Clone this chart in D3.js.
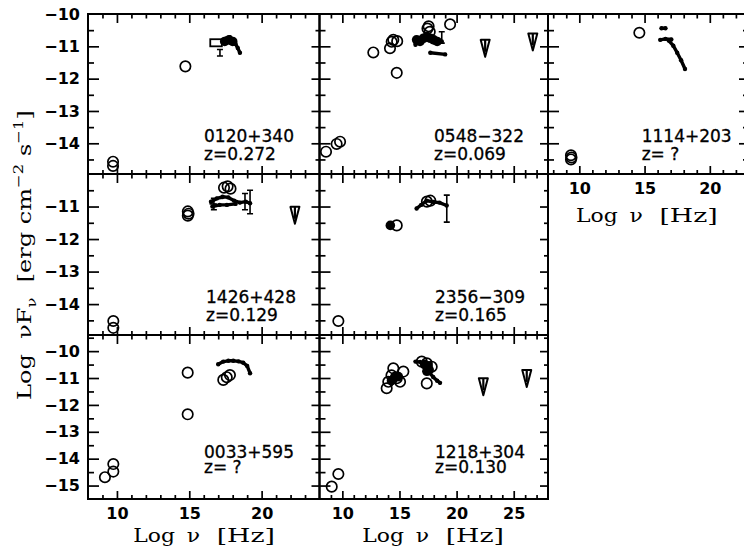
<!DOCTYPE html>
<html><head><meta charset="utf-8">
<script src="https://cdn.jsdelivr.net/npm/d3@7"></script>
<style>body{margin:0;background:#fff}</style>
</head><body><svg id="c" width="744" height="554"></svg>
<script>
// ---------- axis data ----------
const xDomains = [[8,24],[8,28],[7.6,22.85]];
const yDomains = [[-14.95,-10],[-14.95,-10],[-15.5,-9.4]];
const xTickLabelsCol0 = [10,15,20];
const xTickLabelsCol1 = [10,15,20,25];
const xTickLabelsCol2 = [10,15,20];
const yTickLabelsRow0 = [-10,-11,-12,-13,-14];
const yTickLabelsRow1 = [-11,-12,-13,-14];
const yTickLabelsRow2 = [-10,-11,-12,-13,-14,-15];

const sourceNames = ["0120+340","0548\u2212322","1114+203","1426+428","2356\u2212309","0033+595","1218+304"];
const sourceZ = ["z=0.272","z=0.069","z= ?","z=0.129","z=0.165","z= ?","z=0.130"];

// ---------- 0120+340 ----------
const circles0120 = [[9.73,-14.57],[9.73,-14.70],[14.73,-11.62]];
const filled0120 = [[17.45,-10.85],[17.75,-10.8],[18.0,-10.85]];
const spec0120 = [[[17.3,-10.86],[17.55,-10.76],[17.8,-10.72],[18.0,-10.8],[18.2,-10.93],[18.35,-11.05],[18.5,-11.2]]];
const box0120 = [[16.45,17.25,-10.78,-11.0]];
const err0120 = [[17.12,-11.1,-11.3]];
// ---------- 0548-322 ----------
const circles0548 = [[8.57,-14.26],[9.5,-14.02],[9.8,-13.95],[12.71,-11.19],[14.17,-11.06],[14.32,-10.86],[14.46,-10.8],[14.8,-10.84],[14.76,-11.82],[19.43,-10.32],[17.45,-10.45],[17.65,-10.55],[17.55,-10.38]];
const filled0548 = [[16.5,-10.8],[16.8,-10.85],[17.1,-10.75],[17.4,-10.7],[17.7,-10.75],[18.0,-10.8],[18.3,-10.85]];
const spec0548 = [[[16.4,-10.95],[16.8,-10.85],[17.2,-10.8],[17.6,-10.72],[18.0,-10.85],[18.4,-10.88],[18.7,-10.85]],[[17.7,-11.2],[19.0,-11.25]]];
const err0548 = [[18.7,-10.55,-10.9]];
const ul0548 = [[22.5,-10.8],[26.67,-10.6]];
// ---------- 1114+203 ----------
const circles1114 = [[9.36,-14.37],[9.36,-14.5],[9.4,-14.44],[14.6,-10.58]];
const spec1114 = [[[16.2,-10.8],[16.6,-10.77],[17.05,-10.79]],[[16.85,-10.82],[17.2,-10.98],[17.5,-11.2],[17.8,-11.43],[18.1,-11.7]],[[16.3,-10.44],[16.6,-10.44]]];
// ---------- 1426+428 ----------
const circles1426 = [[9.75,-14.52],[9.75,-14.73],[14.9,-11.15],[14.95,-11.22],[14.9,-11.28],[17.4,-10.42],[17.65,-10.38],[17.85,-10.45]];
const spec1426 = [[[16.5,-10.85],[16.9,-10.75],[17.3,-10.7],[17.7,-10.72],[18.1,-10.82],[18.5,-10.88],[18.9,-10.85],[19.2,-10.9]],[[16.6,-11.0],[17.1,-10.95],[17.6,-10.95],[18.2,-10.92]]];
const err1426 = [[19.2,-10.5,-11.22],[18.85,-10.6,-11.1],[16.7,-10.75,-11.1]];
const hbar1426 = [[16.4,16.9,-10.92],[16.9,17.35,-10.75]];
const ul1426 = [[22.3,-11.01]];
// ---------- 2356-309 ----------
const circles2356 = [[9.65,-14.52],[14.76,-11.58],[17.4,-10.85],[17.7,-10.82]];
const filled2356 = [[14.2,-11.58]];
const spec2356 = [[[16.5,-11.06],[16.9,-10.95],[17.39,-10.82],[17.97,-10.86],[18.5,-10.88],[19.13,-10.97]]];
const err2356 = [[19.14,-10.65,-11.48]];
// ---------- 0033+595 ----------
const circles0033 = [[9.17,-14.69],[9.75,-14.2],[9.75,-14.48],[14.89,-10.8],[14.89,-12.35],[17.35,-11.07],[17.59,-10.97],[17.81,-10.89]];
const spec0033 = [[[17.0,-10.49],[17.35,-10.39],[17.7,-10.36],[18.04,-10.36],[18.4,-10.38],[18.73,-10.43],[19.0,-10.55],[19.2,-10.82]]];
// ---------- 1218+304 ----------
const circles1218 = [[9.07,-15.04],[9.65,-14.57],[13.88,-11.38],[14.46,-10.64],[15.34,-10.76],[15.05,-11.14],[14.02,-11.14],[14.76,-11.01],[14.3,-10.9],[17.39,-11.2],[17.39,-10.45],[16.95,-10.39],[17.82,-10.58]];
const filled1218 = [[14.3,-11.1],[14.6,-10.95],[14.9,-10.95],[14.45,-11.05],[17.2,-10.5],[17.5,-10.55],[17.4,-10.75],[17.6,-10.7]];
const spec1218 = [[[16.4,-10.39],[16.8,-10.4]],[[17.6,-10.8],[17.95,-10.96],[18.3,-11.1],[18.55,-11.18]]];
const ul1218 = [[22.34,-11.01],[26.14,-10.7]];

// ---------- assemble ----------
const sources = [
 {circles:circles0120, filled:filled0120, spec:spec0120, box:box0120, err:err0120},
 {circles:circles0548, filled:filled0548, spec:spec0548, err:err0548, ul:ul0548},
 {circles:circles1114, spec:spec1114},
 {circles:circles1426, spec:spec1426, err:err1426, hbar:hbar1426, ul:ul1426},
 {circles:circles2356, filled:filled2356, spec:spec2356, err:err2356},
 {circles:circles0033, spec:spec0033},
 {circles:circles1218, filled:filled1218, spec:spec1218, ul:ul1218}
];
const colRange = [[88,319.5],[319.5,548],[548,747]];
const rowRange = [[14,174],[174,335],[335,499]];
const cells = [
 {src:0,col:0,row:0,tx:116},{src:1,col:1,row:0,tx:114.5},{src:2,col:2,row:0,tx:93.7},
 {src:3,col:0,row:1,tx:118},{src:4,col:1,row:1,tx:115.5},
 {src:5,col:0,row:2,tx:116},{src:6,col:1,row:2,tx:115.5}];
const xLabelSets = {"0,2":xTickLabelsCol0,"1,2":xTickLabelsCol1,"2,0":xTickLabelsCol2};
const yLabelSets = [yTickLabelsRow0,yTickLabelsRow1,yTickLabelsRow2];

const svg = d3.select("#c");
svg.append("rect").attr("width",744).attr("height",554).attr("fill","#fff");

const fmt = d3.format("d");
function styleAxis(g){ g.select(".domain").remove(); g.selectAll("line").attr("stroke","#000").attr("stroke-width",1.7); }

cells.forEach(c=>{
  const S = sources[c.src];
  const [x0,x1] = colRange[c.col], [y0,y1] = rowRange[c.row];
  const x = d3.scaleLinear().domain(xDomains[c.col]).range([x0,x1]);
  const y = d3.scaleLinear().domain(yDomains[c.row]).range([y1,y0]);
  const g = svg.append("g");
  const xd = xDomains[c.col], yd = yDomains[c.row];
  const xInts = d3.range(Math.ceil(xd[0]), Math.floor(xd[1])+1).filter(v=>v>xd[0]+0.05 && v<xd[1]-0.05);
  const xMaj = xInts.filter(v=>v%5===0), xMin = xInts.filter(v=>v%5!==0);
  const yHalf = d3.range(Math.ceil(yd[0]*2), Math.floor(yd[1]*2)+1).map(v=>v/2).filter(v=>v>yd[0]+0.05 && v<yd[1]-0.05);
  const yMaj = yHalf.filter(v=>Number.isInteger(v)), yMin = yHalf.filter(v=>!Number.isInteger(v));
  const defs = [
    [d3.axisBottom, x, xMaj, -8, `translate(0,${y1})`],[d3.axisBottom, x, xMin, -4, `translate(0,${y1})`],
    [d3.axisTop, x, xMaj, -9, `translate(0,${y0})`],[d3.axisTop, x, xMin, -4.5, `translate(0,${y0})`],
    [d3.axisLeft, y, yMaj, -11, `translate(${x0},0)`],[d3.axisLeft, y, yMin, -6, `translate(${x0},0)`],
    [d3.axisRight, y, yMaj, -8, `translate(${x1},0)`],[d3.axisRight, y, yMin, -4, `translate(${x1},0)`]];
  defs.forEach(([ax,sc,vals,sz,tr])=>{
    g.append("g").attr("transform",tr).call(ax(sc).tickValues(vals).tickSize(sz).tickFormat("")).call(styleAxis);
  });
  g.append("rect").attr("x",x0).attr("y",y0).attr("width",x1-x0).attr("height",y1-y0)
    .attr("fill","none").attr("stroke","#000").attr("stroke-width",2);

  // tick labels
  const xl = xLabelSets[c.col+","+c.row];
  if(xl){
    const a = g.append("g").attr("transform",`translate(0,${y1})`)
      .call(d3.axisBottom(x).tickValues(xl).tickSize(0).tickPadding(9).tickFormat(fmt));
    a.select(".domain").remove();
    a.selectAll("text").attr("font-family","DejaVu Sans").attr("font-weight","bold").attr("font-size",16).attr("fill","#000");
  }
  if(c.col===0){
    const a = g.append("g").attr("transform",`translate(${x0},0)`)
      .call(d3.axisLeft(y).tickValues(yLabelSets[c.row]).tickSize(0).tickPadding(8).tickFormat(fmt));
    a.select(".domain").remove();
    a.selectAll("text").attr("font-family","DejaVu Sans").attr("font-weight","bold").attr("font-size",16).attr("fill","#000");
  }

  // marks
  const line = d3.line().x(d=>x(d[0])).y(d=>y(d[1]));
  (S.box||[]).forEach(b=>{
    g.append("rect").attr("x",x(b[0])).attr("y",y(b[2])).attr("width",x(b[1])-x(b[0])).attr("height",y(b[3])-y(b[2]))
      .attr("fill","none").attr("stroke","#000").attr("stroke-width",1.8);
  });
  (S.spec||[]).forEach(p=>{
    g.append("path").attr("d",line(p)).attr("fill","none").attr("stroke","#000").attr("stroke-width",3.4)
      .attr("stroke-linecap","round").attr("stroke-linejoin","round");
    g.selectAll(null).data(p).join("circle").attr("cx",d=>x(d[0])).attr("cy",d=>y(d[1])).attr("r",2.2).attr("fill","#000");
  });
  (S.hbar||[]).forEach(h=>{
    g.append("line").attr("x1",x(h[0])).attr("x2",x(h[1])).attr("y1",y(h[2])).attr("y2",y(h[2])).attr("stroke","#000").attr("stroke-width",1.6);
  });
  (S.err||[]).forEach(e=>{
    const px=x(e[0]), a=y(e[1]), b=y(e[2]);
    g.append("path").attr("d",`M${px},${a}V${b}M${px-3},${a}H${px+3}M${px-3},${b}H${px+3}`)
      .attr("stroke","#000").attr("stroke-width",1.6).attr("fill","none");
  });
  g.selectAll(null).data(S.filled||[]).join("circle").attr("cx",d=>x(d[0])).attr("cy",d=>y(d[1])).attr("r",4.8).attr("fill","#000");
  g.selectAll(null).data(S.circles).join("circle").attr("cx",d=>x(d[0])).attr("cy",d=>y(d[1])).attr("r",5.2)
    .attr("fill","none").attr("stroke","#000").attr("stroke-width",1.7);
  (S.ul||[]).forEach(u=>{
    const px=x(u[0]), py=y(u[1]);
    g.append("path").attr("d",`M${px-4.5},${py}L${px+4.5},${py}L${px},${py+17}Z`).attr("fill","#fff").attr("stroke","#000").attr("stroke-width",2).attr("stroke-linejoin","round");
    g.append("path").attr("d",`M${px},${py}V${py+12}`).attr("stroke","#000").attr("stroke-width",2.2);
  });

  // source label
  const b1 = c.row===2 ? y1-41 : y1-32, b2 = c.row===2 ? y1-26 : y1-14;
  [[sourceNames[c.src],b1],[sourceZ[c.src],b2]].forEach(([t,by])=>{
    g.append("text").attr("x",x0+c.tx).attr("y",by).text(t).attr("font-family","DejaVu Sans").attr("font-size",17)
      .attr("fill","#000").attr("stroke","#000").attr("stroke-width",0.3).style("white-space","pre");
  });
});

// x axis titles
function xTitle(cx, by){
  const parts = [["Log",-70.7,41.7],["\u03bd",-17.3,13.3],["[Hz]",12.7,58.3]];
  parts.forEach(([t,dx,w])=>{
    svg.append("text").attr("x",cx+dx).attr("y",by).text(t).attr("font-family","DejaVu Serif").attr("font-size",19)
      .attr("textLength",w).attr("lengthAdjust","spacingAndGlyphs").attr("fill","#000");
  });
}
xTitle(204,542); xTitle(433,542); xTitle(646.7,222);

// y axis title
const yt = svg.append("g").attr("transform","translate(31,255) rotate(-90)");
const ytxt = yt.append("text").attr("text-anchor","middle").attr("font-family","DejaVu Serif").attr("font-size",19).attr("fill","#000").style("white-space","pre");
ytxt.append("tspan").text("Log  \u03bdF");
ytxt.append("tspan").text("\u03bd").attr("font-size",13).attr("dy",5);
ytxt.append("tspan").text("  [erg cm").attr("dy",-5);
ytxt.append("tspan").text("\u22122").attr("font-size",13).attr("dy",-8);
ytxt.append("tspan").text(" s").attr("dy",8);
ytxt.append("tspan").text("\u22121").attr("font-size",13).attr("dy",-8);
ytxt.append("tspan").text("]").attr("dy",8);
const w = ytxt.node().getComputedTextLength();
yt.attr("transform",`translate(31,255) rotate(-90) scale(${290/w},1)`);
</script></body></html>
